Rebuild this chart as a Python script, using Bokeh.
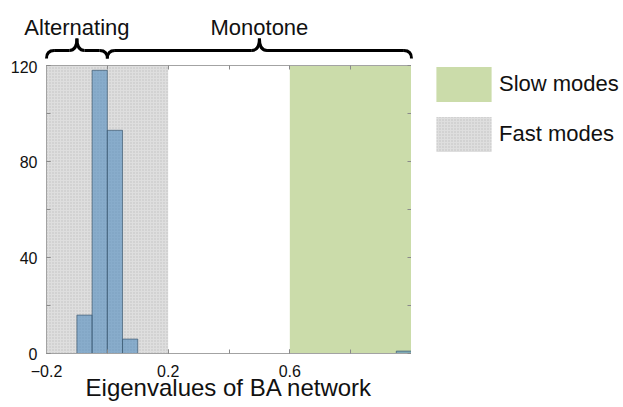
import numpy as np
from bokeh.plotting import figure
from bokeh.models import Range1d, FixedTicker, LinearAxis, Legend, LegendItem
from bokeh.core.properties import value
from bokeh.layouts import column, row
from bokeh.embed import file_html
from bokeh.resources import INLINE

# ---------------- data ----------------
bin_left = [-0.10, -0.05, 0.00, 0.05, 0.95]
bin_right = [-0.05, 0.00, 0.05, 0.10, 1.00]
counts = [16, 118, 93, 6, 1]

fast_region = [-0.2, 0.2]      # "Fast modes" band
slow_region = [0.6, 1.0]       # "Slow modes" band

brace_labels = ["Alternating", "Monotone"]
brace_start = [-0.2, 0.0]
brace_end = [0.0, 1.0]

legend_labels = ["Slow modes", "Fast modes"]

x_range_lim = [-0.2, 1.0]
x_label_ticks = [-0.2, 0.2, 0.6]
x_all_ticks = [-0.2, 0.0, 0.2, 0.4, 0.6, 0.8, 1.0]
y_range_lim = [0, 120]
y_label_ticks = [0, 40, 80, 120]
y_all_ticks = [0, 20, 40, 60, 80, 100, 120]

FONT = "Liberation Sans"
GRAY = "#a3a3a3"
TICK = "#8a8a8a"
FAST_STYLE = dict(fill_color="#dedede", line_color=None, hatch_pattern="dot",
                  hatch_scale=3, hatch_color="#8f8f8f", hatch_alpha=0.38)
SLOW_STYLE = dict(fill_color="#cbdcaa", line_color=None)

FW, FH = 365, 288
LEFT = 46

x_range = Range1d(*x_range_lim)
y_range = Range1d(*y_range_lim)
y_max = y_range_lim[1]


def bare(fig):
    fig.frame_align = False
    fig.axis.visible = False
    fig.grid.visible = False
    fig.outline_line_color = None
    fig.background_fill_color = "white"
    fig.border_fill_color = "white"


# ---------------- main plot ----------------
p = figure(frame_width=FW, frame_height=FH, x_range=x_range, y_range=y_range,
           output_backend="svg", toolbar_location=None,
           min_border_left=LEFT, min_border_top=5, min_border_right=0,
           min_border_bottom=0)
p.frame_align = False
p.grid.visible = False
p.outline_line_color = GRAY
p.background_fill_color = "white"
p.border_fill_color = "white"

p.quad(left=[fast_region[0]], right=[fast_region[1]], bottom=[0], top=[y_max], **FAST_STYLE)
p.quad(left=[slow_region[0]], right=[slow_region[1]], bottom=[0], top=[y_max], **SLOW_STYLE)

p.quad(left=bin_left, right=bin_right, bottom=0, top=counts,
       fill_color="#4a88bd", fill_alpha=0.58,
       line_color="#3f5a70", line_alpha=0.7, line_width=1)

p.xaxis.ticker = FixedTicker(ticks=x_label_ticks, minor_ticks=x_all_ticks)
p.yaxis.ticker = FixedTicker(ticks=y_label_ticks, minor_ticks=y_all_ticks)
p.xaxis.axis_label = "Eigenvalues of BA network"

for ax in list(p.xaxis) + list(p.yaxis):
    ax.axis_line_color = GRAY
    ax.major_tick_line_color = TICK
    ax.major_tick_in = 4
    ax.major_tick_out = 0
    ax.minor_tick_line_color = TICK
    ax.minor_tick_in = 4
    ax.minor_tick_out = 0
    ax.major_label_text_font = FONT
    ax.major_label_text_font_size = "16px"
    ax.major_label_text_color = "#111111"
    ax.axis_label_text_font = FONT
    ax.axis_label_text_font_size = "24px"
    ax.axis_label_text_font_style = "normal"
    ax.axis_label_text_color = "#111111"

p.xaxis.major_label_standoff = 11
p.xaxis.axis_label_standoff = -6
p.yaxis.major_label_standoff = 9

# box ticks on top and right (minor ticks only -> no labels)
top_ax = LinearAxis(ticker=FixedTicker(ticks=[], minor_ticks=x_all_ticks),
                    major_tick_line_color=None, major_tick_out=0,
                    minor_tick_in=4, minor_tick_out=0,
                    minor_tick_line_color=TICK, axis_line_color=GRAY)
right_ax = LinearAxis(ticker=FixedTicker(ticks=[], minor_ticks=y_all_ticks),
                      major_tick_line_color=None, major_tick_out=0,
                      minor_tick_in=4, minor_tick_out=0,
                      minor_tick_line_color=TICK, axis_line_color=GRAY)
p.add_layout(top_ax, "above")
p.add_layout(right_ax, "right")

# ---------------- legend panel (right) ----------------
lg = figure(frame_width=210, frame_height=100, x_range=x_range, y_range=y_range,
            output_backend="svg", toolbar_location=None,
            min_border_left=0, min_border_right=0, min_border_top=0, min_border_bottom=0)
bare(lg)
slow_r = lg.quad(left=[slow_region[0]], right=[slow_region[1]], bottom=[0], top=[y_max],
                 visible=False, **SLOW_STYLE)
fast_r = lg.quad(left=[fast_region[0]], right=[fast_region[1]], bottom=[0], top=[y_max],
                 visible=False, **FAST_STYLE)
legend = Legend(items=[LegendItem(label=legend_labels[0], renderers=[slow_r]),
                       LegendItem(label=legend_labels[1], renderers=[fast_r])],
                location=(18, 4), orientation="vertical",
                glyph_width=69, glyph_height=44, spacing=6, label_standoff=1,
                label_text_font=FONT, label_text_font_size="22px",
                label_text_color="#111111", inactive_fill_alpha=0,
                padding=0, margin=0, border_line_alpha=0, background_fill_alpha=0)
lg.add_layout(legend, "center")

# ---------------- braces above ----------------
ppu = FW / (x_range_lim[1] - x_range_lim[0])
top_w = 617
tx0 = x_range_lim[0] - LEFT / ppu
top = figure(frame_width=top_w, frame_height=52,
             x_range=Range1d(tx0, tx0 + top_w / ppu), y_range=Range1d(0, 52),
             output_backend="svg", toolbar_location=None,
             min_border_left=0, min_border_right=0, min_border_top=8, min_border_bottom=0)
bare(top)

r = 0.025
y_end, y_mid, y_tip, y_txt = 2, 10, 22, 33
x0 = np.array(brace_start)
x1 = np.array(brace_end)
xm = (x0 + x1) / 2
qx0 = np.concatenate([x0, x1, xm - r, xm + r])
qy0 = np.array([y_end] * 4 + [y_mid] * 4)
qx1 = np.concatenate([x0 + r, x1 - r, xm, xm])
qy1 = np.array([y_mid] * 4 + [y_tip] * 4)
qcx = np.concatenate([x0, x1, xm, xm])
qcy = np.full(8, y_mid)
top.quadratic(x0=qx0, y0=qy0, x1=qx1, y1=qy1, cx=qcx, cy=qcy,
              line_color="black", line_width=3)
top.segment(x0=np.concatenate([x0 + r, xm + r]), y0=y_mid,
            x1=np.concatenate([xm - r, x1 - r]), y1=y_mid,
            line_color="black", line_width=3)
top.text(x=xm, y=y_txt, text=brace_labels, text_align="center",
         text_baseline="alphabetic", text_font=value(FONT), text_font_size="22px",
         text_color="#111111")

layout = column(top, row(p, lg))
open("out.html", "w").write(file_html(layout, INLINE))
